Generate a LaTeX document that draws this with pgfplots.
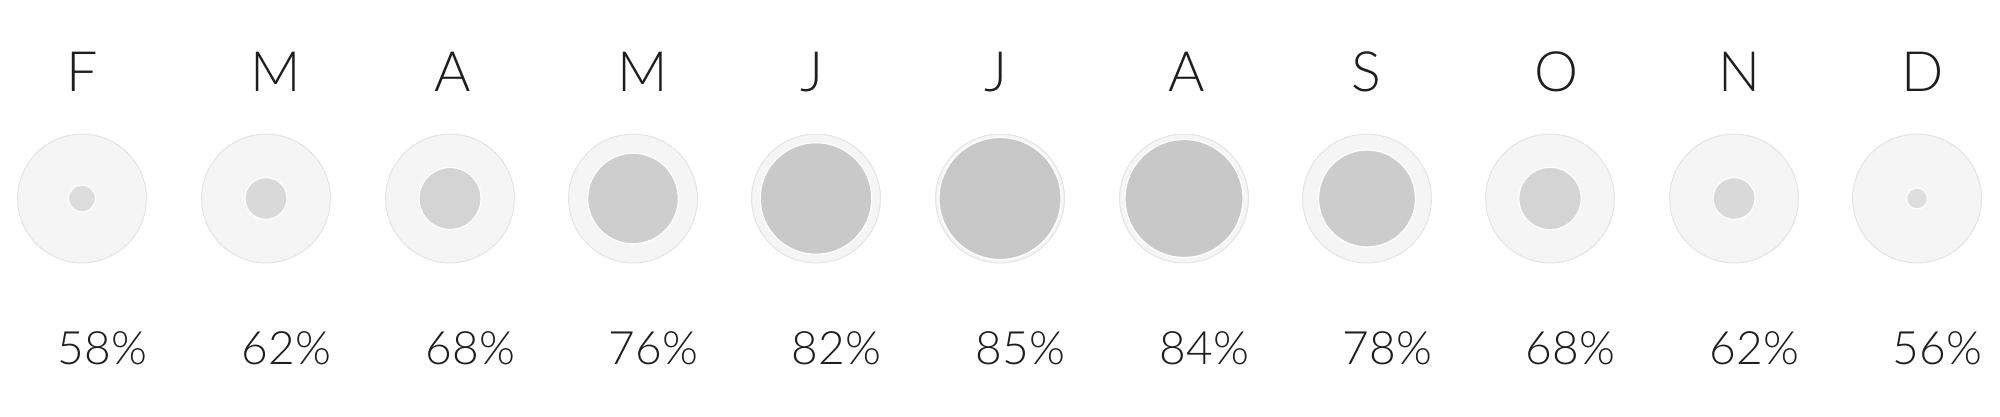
\documentclass[border=0pt]{standalone}
\usepackage{pgfplots}
\pgfplotsset{compat=1.18}
\usepackage{pgfplotstable}
\usepackage{fontspec}
\IfFontExistsTF{Lato Light}{\setmainfont{Lato Light}}{\setmainfont{TeX Gyre Heros}}

\definecolor{outerfill}{HTML}{F5F5F5}
\definecolor{outerline}{HTML}{E4E4E4}
\definecolor{txt}{HTML}{1E1E1E}

% x = centre of each month (px), y = centre height, r = inner radius (px), v = percent
\pgfplotstableread{
x     y      r     v
82    198.5  13.5  58
266   198.5  21.0  62
450   198.5  31.0  68
633   198.5  45.3  76
816   198.5  55.8  82
1000  198.5  61.0  85
1184  198.5  59.0  84
1367  198.5  48.5  78
1550  198.5  31.2  68
1734  198.5  21.0  62
1917  198.5  10.5  56
}\data

\begin{document}
\begin{tikzpicture}
\path[use as bounding box] (0,0) rectangle (500pt,104.25pt);
\begin{axis}[
    at={(0,0)}, anchor=south west,
    scale only axis,
    width=500pt, height=104.25pt,
    xmin=0, xmax=2000,
    ymin=0, ymax=417,
    y dir=reverse,
    hide axis,
    clip=false,
    colormap={grays}{rgb255=(222,222,222) rgb255=(199,199,199)},
    point meta min=56, point meta max=85,
  ]
  % outer discs (100 percent reference)
  \addplot[only marks, mark=*, mark size=16.1pt,
    mark options={fill=outerfill, draw=outerline, line width=0.25pt}]
    table[x=x, y=y] {\data};
  % inner discs, radius from column r
  \addplot[scatter, only marks, mark=*,
    point meta=explicit,
    scatter/use mapped color={draw=white, fill=mapped color},
    visualization depends on={0.25*\thisrow{r} \as \rad},
    scatter/@pre marker code/.append style={/tikz/mark size=\rad},
    mark options={line width=0.3pt}]
    table[x=x, y=y, meta=v] {\data};

  \begin{scope}[every node/.style={anchor=base west, inner sep=0pt, text=txt,
      font=\fontsize{13.9}{16}\selectfont}]
    \node at (axis cs:66,92) {F};
    \node at (axis cs:250,92) {M};
    \node at (axis cs:434,92) {A};
    \node at (axis cs:617,92) {M};
    \node at (axis cs:800,92) {J};
    \node at (axis cs:984,92) {J};
    \node at (axis cs:1168,92) {A};
    \node at (axis cs:1351,92) {S};
    \node at (axis cs:1534,92) {O};
    \node at (axis cs:1718,92) {N};
    \node at (axis cs:1901,92) {D};
  \end{scope}
  \begin{scope}[every node/.style={anchor=base west, inner sep=0pt, text=txt,
      font=\fontsize{11.5}{14}\selectfont}]
    \node at (axis cs:57,364) {58\%};
    \node at (axis cs:241,364) {62\%};
    \node at (axis cs:425,364) {68\%};
    \node at (axis cs:608,364) {76\%};
    \node at (axis cs:791,364) {82\%};
    \node at (axis cs:975,364) {85\%};
    \node at (axis cs:1159,364) {84\%};
    \node at (axis cs:1342,364) {78\%};
    \node at (axis cs:1525,364) {68\%};
    \node at (axis cs:1709,364) {62\%};
    \node at (axis cs:1892,364) {56\%};
  \end{scope}
\end{axis}
\end{tikzpicture}
\end{document}
